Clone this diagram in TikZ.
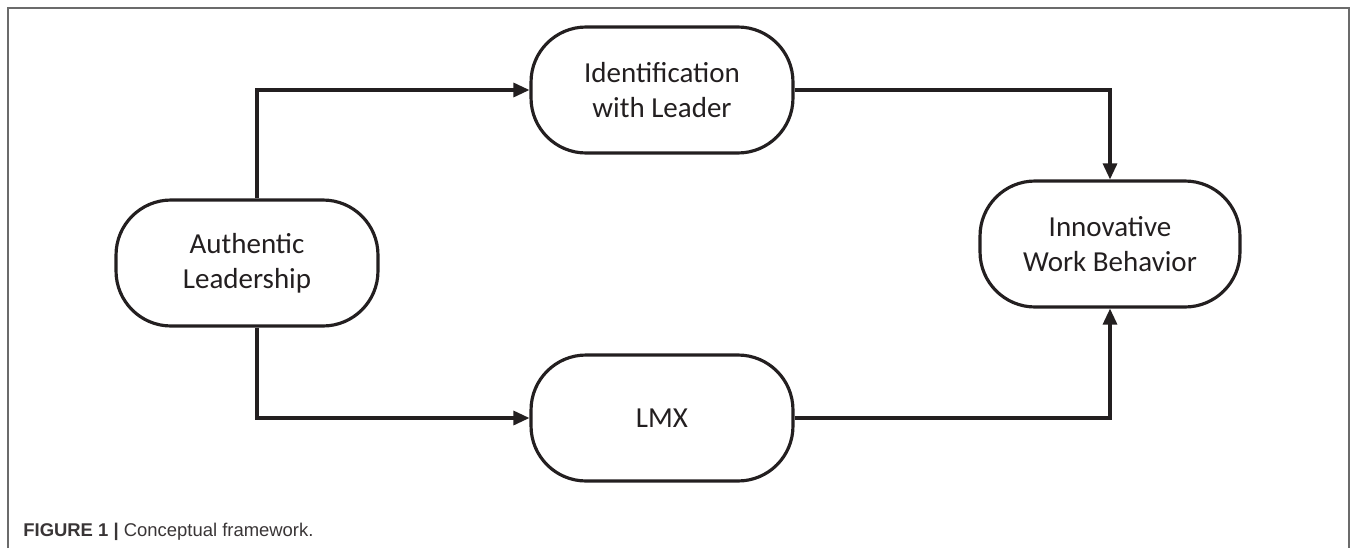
\documentclass[tikz,border=0pt]{standalone}
\usepackage{fontspec}
\setmainfont{Carlito}
\newfontfamily\capfont{Liberation Sans}
\usetikzlibrary{arrows.meta}
\definecolor{ink}{HTML}{231F20}
\definecolor{framegray}{HTML}{6B6B6B}

\begin{document}
\begin{tikzpicture}[x=0.02cm,y=-0.02cm,
    box/.style={draw=ink,line width=1.8pt,rounded corners=1.1cm,
        minimum width=5.24cm,minimum height=2.52cm,align=center,
        text=ink,font=\fontsize{16.5}{20}\selectfont},
    arr/.style={draw=ink,line width=1.8pt,-{Triangle[length=0.32cm,width=0.28cm]}},
    frame/.style={draw=framegray,line width=1.1pt}]
    \useasboundingbox (0,0) rectangle (1358,548);
    \draw[frame] (8,548) -- (8,8) -- (1349,8) -- (1349,548);

    \node[box] (auth) at (247,263) {Authentic\\Leadership};
    \node[box] (ident) at (662,90) {Identification\\with Leader};
    \node[box] (lmx) at (662,418) {LMX};
    \node[box,minimum width=5.2cm] (innov) at (1110,244) {Innovative\\Work Behavior};

    \draw[arr] ([xshift=0.2cm]auth.north) |- (ident.west);
    \draw[arr] ([xshift=0.2cm]auth.south) |- (lmx.west);
    \draw[arr] (ident.east) -| (innov.north);
    \draw[arr] (lmx.east) -| (innov.south);

    \node[anchor=base west,inner sep=0pt,text=ink!90,font=\capfont\fontsize{10.5}{12}\selectfont] (cap) at (23,536)
        {\textbf{FIGURE 1 |} Conceptual framework.};
\end{tikzpicture}
\end{document}
